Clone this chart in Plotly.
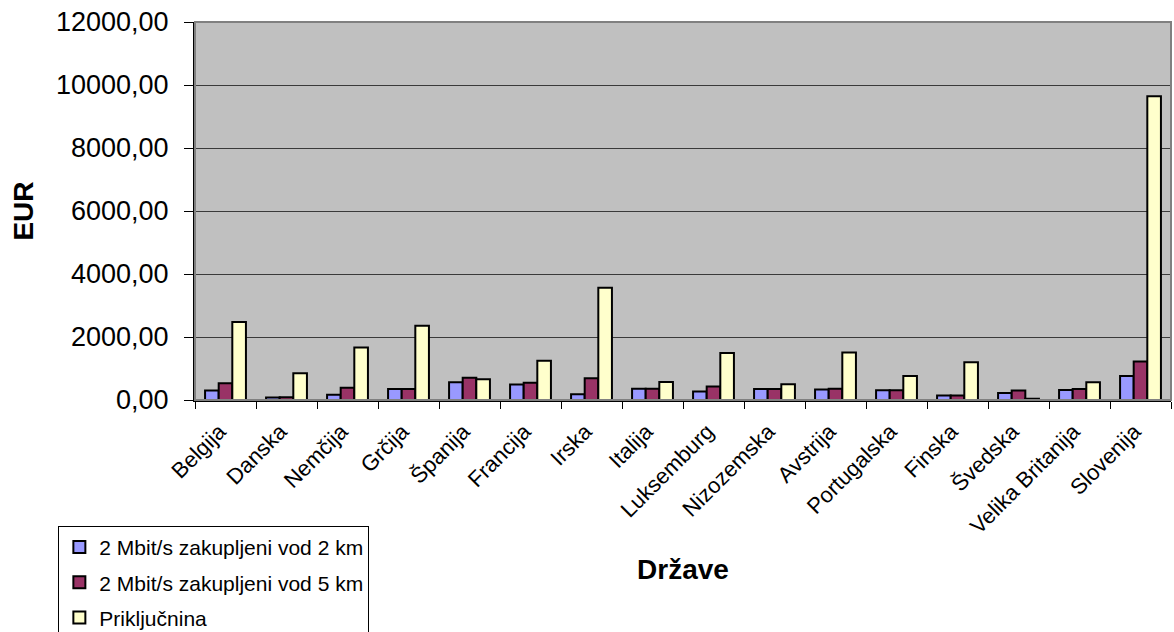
import plotly.graph_objects as go

# Countries along the x axis
drzave = ["Belgija", "Danska", "Nemčija", "Grčija", "Španija", "Francija", "Irska",
          "Italija", "Luksemburg", "Nizozemska", "Avstrija", "Portugalska", "Finska",
          "Švedska", "Velika Britanija", "Slovenija"]

# Prices in EUR
vod_2km = [300, 80, 170, 350, 560, 490, 180, 360, 270, 350, 330, 310, 140, 220, 320, 760]
vod_5km = [530, 90, 390, 350, 710, 550, 690, 360, 430, 350, 360, 310, 140, 300, 350, 1220]
prikljucnina = [2480, 850, 1670, 2360, 660, 1250, 3560, 570, 1490, 500, 1510, 760, 1200, 40, 560, 9640]

series_names = ["2 Mbit/s zakupljeni vod 2 km", "2 Mbit/s zakupljeni vod 5 km", "Priključnina"]
y_ticks = [0, 2000, 4000, 6000, 8000, 10000, 12000]

FONT = "Liberation Sans, Arial, sans-serif"
colors = ["#9999FF", "#993366", "#FFFFCC"]

fig = go.Figure()
for i, (name, vals, col) in enumerate(zip(series_names, [vod_2km, vod_5km, prikljucnina], colors)):
    fig.add_trace(go.Bar(
        x=drzave, y=vals, name=name, legendgroup=f"g{i}",
        marker=dict(color=col, line=dict(color="black", width=2)),
    ))

fig.update_layout(
    width=1174, height=632,
    margin=dict(l=195, r=3, t=22, b=232, autoexpand=False),
    paper_bgcolor="white",
    plot_bgcolor="#C0C0C0",
    separators=",.",
    barmode="group",
    bargap=0.33,
    bargroupgap=0,
    font=dict(family=FONT, color="black"),
    showlegend=True,
    legend=dict(
        x=-0.140, y=-0.333, xanchor="left", yanchor="top",
        bgcolor="white", bordercolor="black", borderwidth=1,
        font=dict(size=21, family=FONT),
        tracegroupgap=5, itemwidth=30,
    ),
    shapes=[dict(type="rect", xref="paper", yref="paper", x0=0, y0=0, x1=1, y1=1,
                 line=dict(color="#808080", width=2), layer="above")],
)

fig.update_xaxes(
    type="category",
    automargin=False,
    tickangle=-45,
    tickfont=dict(size=22, family=FONT),
    ticks="outside", ticklen=7, tickcolor="black", tickson="boundaries",
    ticklabelstandoff=8, ticklabelshift=-6,
    showline=True, linecolor="black", linewidth=2,
    showgrid=False,
    title=dict(text="<b>Države</b>", font=dict(size=28, family=FONT), standoff=22),
)

fig.update_yaxes(
    range=[0, 12000],
    automargin=False,
    tickvals=y_ticks,
    tickformat=".2f",
    tickfont=dict(size=27, family=FONT),
    ticks="outside", ticklen=9, tickcolor="black",
    ticklabelstandoff=10,
    showline=True, linecolor="black", linewidth=2,
    showgrid=True, gridcolor="#3A3A3A", gridwidth=1,
    zeroline=False,
    title=dict(text="<b>EUR</b>", font=dict(size=28, family=FONT), standoff=14),
)

fig.write_html("out.html")
